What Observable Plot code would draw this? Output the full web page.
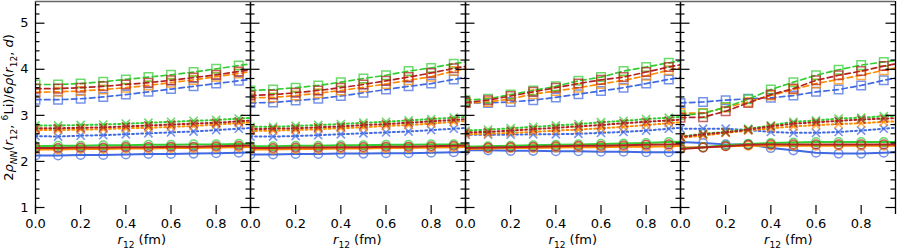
<!DOCTYPE html>
<html>
<head>
<meta charset="utf-8">
<script src="https://cdn.jsdelivr.net/npm/d3@7"></script>
<script src="https://cdn.jsdelivr.net/npm/@observablehq/plot@0.6"></script>
<style>
  html, body { margin: 0; padding: 0; background: #fff; }
  #chart svg { display: block; font-family: "DejaVu Sans", sans-serif; }
</style>
</head>
<body>
<div id="chart"></div>
<script>
// ---- data ----
const r12 = [0.0, 0.1, 0.2, 0.3, 0.4, 0.5, 0.6, 0.7, 0.8, 0.9, 1.0];
const panels = ["P1", "P2", "P3", "P4"];
const seriesNames = ["s1", "s2", "s3", "s4"]; // blue, orange, green, red
const palette = ["#4169e1", "#ff8c00", "#32cd32", "#b22222"];
const xTicks = [0.0, 0.2, 0.4, 0.6, 0.8];
const yMajor = [1, 2, 3, 4, 5];
const yMinor = [1.2, 1.4, 1.6, 1.8, 2.2, 2.4, 2.6, 2.8, 3.2, 3.4, 3.6, 3.8, 4.2, 4.4, 4.6, 4.8, 5.2, 5.4];
const xDomain = [0, 0.952];
const yDomain = [0.848, 5.471];

// solid lines with circles  [blue, orange, green, red]
const p1Solid = [
  [2.13,2.13,2.14,2.14,2.15,2.16,2.16,2.17,2.18,2.19,2.20],
  [2.26,2.26,2.27,2.27,2.28,2.28,2.29,2.29,2.30,2.31,2.32],
  [2.33,2.34,2.34,2.35,2.35,2.36,2.36,2.37,2.37,2.38,2.39],
  [2.29,2.29,2.30,2.30,2.31,2.31,2.32,2.32,2.33,2.34,2.35]];
const p2Solid = [
  [2.15,2.15,2.16,2.16,2.17,2.17,2.18,2.18,2.19,2.20,2.21],
  [2.26,2.26,2.27,2.27,2.28,2.28,2.29,2.29,2.30,2.31,2.32],
  [2.33,2.33,2.34,2.34,2.35,2.35,2.36,2.36,2.37,2.37,2.38],
  [2.29,2.29,2.30,2.30,2.31,2.31,2.32,2.32,2.33,2.34,2.35]];
const p3Solid = [
  [2.24,2.24,2.23,2.23,2.22,2.22,2.21,2.21,2.20,2.20,2.20],
  [2.27,2.28,2.29,2.29,2.30,2.31,2.31,2.32,2.32,2.33,2.34],
  [2.32,2.33,2.34,2.35,2.36,2.37,2.38,2.39,2.40,2.42,2.43],
  [2.29,2.30,2.31,2.32,2.33,2.34,2.34,2.35,2.36,2.37,2.38]];
const p4Solid = [
  [2.42,2.40,2.37,2.37,2.29,2.24,2.19,2.17,2.17,2.19,2.21],
  [2.30,2.31,2.33,2.34,2.34,2.34,2.34,2.34,2.34,2.34,2.34],
  [2.28,2.31,2.35,2.38,2.40,2.41,2.42,2.42,2.42,2.42,2.42],
  [2.27,2.30,2.33,2.36,2.37,2.37,2.37,2.37,2.37,2.37,2.37]];

// dotted lines with crosses
const p1Dotted = [
  [2.55,2.54,2.56,2.57,2.59,2.61,2.63,2.65,2.68,2.71,2.74],
  [2.68,2.68,2.69,2.70,2.72,2.73,2.75,2.77,2.80,2.83,2.86],
  [2.78,2.78,2.79,2.80,2.82,2.84,2.86,2.88,2.90,2.93,2.96],
  [2.72,2.72,2.73,2.74,2.76,2.78,2.80,2.82,2.84,2.87,2.90]];
const p2Dotted = [
  [2.54,2.54,2.55,2.57,2.59,2.61,2.63,2.65,2.68,2.71,2.74],
  [2.66,2.67,2.68,2.70,2.72,2.74,2.77,2.79,2.82,2.86,2.89],
  [2.75,2.75,2.77,2.79,2.81,2.84,2.86,2.89,2.92,2.95,2.98],
  [2.70,2.71,2.72,2.74,2.76,2.79,2.81,2.84,2.87,2.90,2.93]];
const p3Dotted = [
  [2.58,2.58,2.58,2.59,2.59,2.60,2.62,2.64,2.67,2.71,2.75],
  [2.59,2.60,2.62,2.64,2.67,2.69,2.72,2.75,2.79,2.83,2.87],
  [2.67,2.69,2.72,2.75,2.78,2.81,2.85,2.88,2.92,2.95,2.98],
  [2.63,2.64,2.67,2.70,2.73,2.76,2.79,2.83,2.86,2.89,2.92]];
const p4Dotted = [
  [2.71,2.71,2.71,2.68,2.64,2.62,2.62,2.64,2.67,2.71,2.75],
  [2.51,2.56,2.62,2.67,2.72,2.76,2.79,2.81,2.83,2.86,2.88],
  [2.54,2.60,2.64,2.71,2.78,2.86,2.89,2.93,2.95,2.98,3.00],
  [2.53,2.59,2.63,2.69,2.76,2.82,2.85,2.88,2.91,2.93,2.95]];

// dashed lines with squares
const p1Dashed = [
  [3.34,3.34,3.36,3.40,3.45,3.51,3.57,3.63,3.69,3.75,3.81],
  [3.50,3.51,3.53,3.56,3.60,3.65,3.71,3.77,3.84,3.91,3.98],
  [3.67,3.67,3.69,3.73,3.78,3.83,3.88,3.94,4.01,4.08,4.15],
  [3.58,3.58,3.60,3.63,3.67,3.71,3.76,3.82,3.88,3.95,4.02]];
const p2Dashed = [
  [3.27,3.28,3.32,3.36,3.42,3.49,3.56,3.63,3.69,3.78,3.86],
  [3.38,3.39,3.43,3.48,3.54,3.61,3.68,3.76,3.84,3.96,4.06],
  [3.54,3.56,3.60,3.65,3.72,3.80,3.87,3.96,4.03,4.12,4.20],
  [3.43,3.45,3.49,3.54,3.60,3.67,3.75,3.83,3.92,4.02,4.10]];
const p3Dashed = [
  [3.27,3.27,3.29,3.33,3.39,3.46,3.53,3.60,3.69,3.78,3.87],
  [3.27,3.29,3.36,3.46,3.53,3.60,3.68,3.76,3.86,3.98,4.08],
  [3.33,3.36,3.45,3.54,3.63,3.75,3.83,3.96,4.05,4.14,4.22],
  [3.28,3.33,3.42,3.51,3.60,3.69,3.77,3.83,3.94,4.05,4.14]];
const p4Dashed = [
  [3.27,3.29,3.33,3.36,3.38,3.43,3.51,3.56,3.65,3.76,3.85],
  [3.05,3.05,3.17,3.29,3.43,3.56,3.69,3.78,3.87,3.98,4.07],
  [3.00,3.04,3.18,3.35,3.56,3.72,3.87,3.99,4.09,4.16,4.22],
  [2.95,2.96,3.09,3.27,3.45,3.58,3.76,3.87,3.96,4.07,4.16]];

// ---- build long table ----
const styleTables = {
  solid: [p1Solid, p2Solid, p3Solid, p4Solid],
  dotted: [p1Dotted, p2Dotted, p3Dotted, p4Dotted],
  dashed: [p1Dashed, p2Dashed, p3Dashed, p4Dashed]
};
function rowsFor(style) {
  const rows = [];
  styleTables[style].forEach((panelData, pi) => {
    panelData.forEach((vals, si) => {
      vals.forEach((v, i) => rows.push({panel: panels[pi], series: seriesNames[si], style, key: panels[pi] + seriesNames[si], x: r12[i], y: v}));
    });
  });
  return rows;
}
const solidRows = rowsFor("solid");
const dottedRows = rowsFor("dotted");
const dashedRows = rowsFor("dashed");

// ---- layout ----
const W = 897, H = 250;
const mL = 34, mR = 1, mT = 1, mB = 36;
const fw = (W - mL - mR) / panels.length;
const ph = H - mT - mB;
const majorLen = 10, minorLen = 5, xTickLen = 9;

const markerOpacity = 0.72;
const marks = [];
for (const s of seriesNames) {
  const f = d => d.series === s;
  marks.push(
    Plot.line(solidRows.filter(f), {x: "x", y: "y", z: "key", fx: "panel", stroke: "series", strokeWidth: 2, clip: true}),
    Plot.dot(solidRows.filter(f), {x: "x", y: "y", fx: "panel", stroke: "series", symbol: "circle", r: 4.3, fill: "none", strokeWidth: 1.5, strokeOpacity: markerOpacity, clip: true}),
    Plot.line(dottedRows.filter(f), {x: "x", y: "y", z: "key", fx: "panel", stroke: "series", strokeWidth: 2, strokeDasharray: "1.8,2.8", clip: true}),
    Plot.dot(dottedRows.filter(f), {x: "x", y: "y", fx: "panel", stroke: "series", symbol: "times", r: 3.8, strokeWidth: 1.6, strokeOpacity: markerOpacity, clip: true}),
    Plot.line(dashedRows.filter(f), {x: "x", y: "y", z: "key", fx: "panel", stroke: "series", strokeWidth: 1.7, strokeDasharray: "5.5,3.5", clip: true}),
    Plot.dot(dashedRows.filter(f), {x: "x", y: "y", fx: "panel", stroke: "series", symbol: "square", r: 4.8, fill: "none", strokeWidth: 1.5, strokeOpacity: markerOpacity, clip: true})
  );
}

const plot = Plot.plot({
  width: W, height: H,
  marginLeft: mL, marginRight: mR, marginTop: mT, marginBottom: mB,
  style: {fontFamily: "DejaVu Sans, sans-serif", fontSize: "13px", color: "#000", background: "#fff"},
  fx: {domain: panels, padding: 0, axis: null, label: null},
  x: {domain: xDomain, label: null},
  y: {domain: yDomain, label: null},
  color: {domain: seriesNames, range: palette},
  marks: [
    ...marks,
    // inward ticks, left side of each panel
    Plot.tickY(yMajor, {y: d => d, insetRight: fw - majorLen, stroke: "#000", strokeWidth: 1.2}),
    Plot.tickY(yMinor, {y: d => d, insetRight: fw - minorLen, stroke: "#000", strokeWidth: 1.2}),
    // inward ticks, right side of each panel
    Plot.tickY(yMajor, {y: d => d, insetLeft: fw - majorLen, stroke: "#000", strokeWidth: 1.2}),
    Plot.tickY(yMinor, {y: d => d, insetLeft: fw - minorLen, stroke: "#000", strokeWidth: 1.2}),
    // bottom x ticks, inward
    Plot.tickX(xTicks, {x: d => d, insetTop: ph - xTickLen, stroke: "#000", strokeWidth: 1.2}),
    // panel spines
    Plot.ruleX([xDomain[0]], {stroke: "#000", strokeWidth: 1.3}),
    Plot.ruleX([xDomain[1]], {stroke: "#000", strokeWidth: 1.3}),
    Plot.ruleY([yDomain[1]], {stroke: "#666", strokeWidth: 1.5}),
    Plot.axisY({ticks: yMajor, tickSize: 0, tickPadding: 7, tickFormat: d3.format("d"), label: null}),
    Plot.axisX({ticks: xTicks, tickSize: 0, tickPadding: 4, tickFormat: d3.format(".1f"), label: null})
  ]
});

document.getElementById("chart").appendChild(plot);

// ---- rich-text labels ----
const svg = d3.select(plot);
function richText(g, segments, baseSize) {
  let shift = 0;
  for (const seg of segments) {
    const target = seg.shift === "sub" ? 0.3 * baseSize : seg.shift === "sup" ? -0.4 * baseSize : 0;
    const ts = g.append("tspan").text(seg.t).attr("dy", target - shift);
    shift = target;
    if (seg.italic) ts.attr("font-style", "italic");
    if (seg.shift) ts.attr("font-size", baseSize * 0.7);
  }
}
const yl = svg.append("text")
  .attr("transform", `translate(13,${mT + ph / 2}) rotate(-90)`)
  .attr("text-anchor", "middle")
  .attr("font-size", 13)
  .attr("fill", "#000");
richText(yl, [
  {t: "2"}, {t: "ρ", italic: true}, {t: "NN", italic: true, shift: "sub"},
  {t: "("}, {t: "r", italic: true}, {t: "12", shift: "sub"}, {t: ", "},
  {t: "6", shift: "sup"}, {t: "Li)/6"}, {t: "ρ", italic: true}, {t: "("},
  {t: "r", italic: true}, {t: "12", shift: "sub"}, {t: ", "}, {t: "d", italic: true}, {t: ")"}
], 13);

panels.forEach((p, i) => {
  const cx = mL + fw * i + fw / 2;
  const xl = svg.append("text")
    .attr("x", cx).attr("y", H - 6)
    .attr("text-anchor", "middle")
    .attr("font-size", 13)
    .attr("fill", "#000");
  richText(xl, [{t: "r", italic: true}, {t: "12", shift: "sub"}, {t: " (fm)"}], 13);
});
</script>
</body>
</html>
